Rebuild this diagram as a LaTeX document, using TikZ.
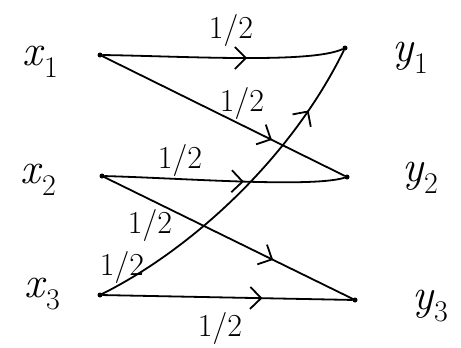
\documentclass[tikz,border=0pt]{standalone}
\usetikzlibrary{arrows.meta,decorations.markings}
\newcommand{\vlab}[2]{\textit{#1}\raisebox{-0.28em}{\fontsize{30}{33}\selectfont #2}}
\begin{document}
\begin{tikzpicture}[x=1pt,y=-1pt,
  dot/.style={circle,fill=black,inner sep=0pt,minimum size=5pt},
  lab/.style={font=\fontsize{44}{48}\selectfont},
  wt/.style={font=\fontsize{32}{36}\selectfont},
  edge/.style={line width=1.8pt,line cap=round},
  midarrow/.style={postaction={decorate},decoration={markings,
    mark=at position #1 with {\arrow{Straight Barb[length=11pt,width=22pt,line width=1.8pt]}}}}]
\useasboundingbox (0,0) rectangle (461,348);
\node[dot] (x1) at (100,55) {};
\node[dot] (x2) at (102,176) {};
\node[dot] (x3) at (100,295) {};
\node[dot] (y1) at (345,48) {};
\node[dot] (y2) at (347,177) {};
\node[dot] (y3) at (355,300) {};
\node[lab] (lx1) at (40,62) {\vlab{x}{1}};
\node[lab] (lx2) at (38,180) {\vlab{x}{2}};
\node[lab] (lx3) at (42,294) {\vlab{x}{3}};
\node[lab] (ly1) at (410,58) {\vlab{y}{1}};
\node[lab] (ly2) at (420,178) {\vlab{y}{2}};
\node[lab] (ly3) at (430,306) {\vlab{y}{3}};
\draw[edge,midarrow=0.6] (x1) .. controls (180,56) and (310,64) .. (y1);
\draw[edge,midarrow=0.7] (x1) -- (y2);
\draw[edge,midarrow=0.58] (x2) .. controls (180,178) and (310,188) .. (y2);
\draw[edge,midarrow=0.68] (x2) -- (y3);
\draw[edge,midarrow=0.64] (x3) -- (y3);
\draw[edge,midarrow=0.8] (x3) .. controls (190,250) and (290,160) .. (y1);
\node[wt] (w1) at (231,30) {1/2};
\node[wt] (w2) at (242,103) {1/2};
\node[wt] (w3) at (180,160) {1/2};
\node[wt] (w4) at (150,225) {1/2};
\node[wt] (w5) at (122,267) {1/2};
\node[wt] (w6) at (220,328) {1/2};
\end{tikzpicture}
\end{document}
